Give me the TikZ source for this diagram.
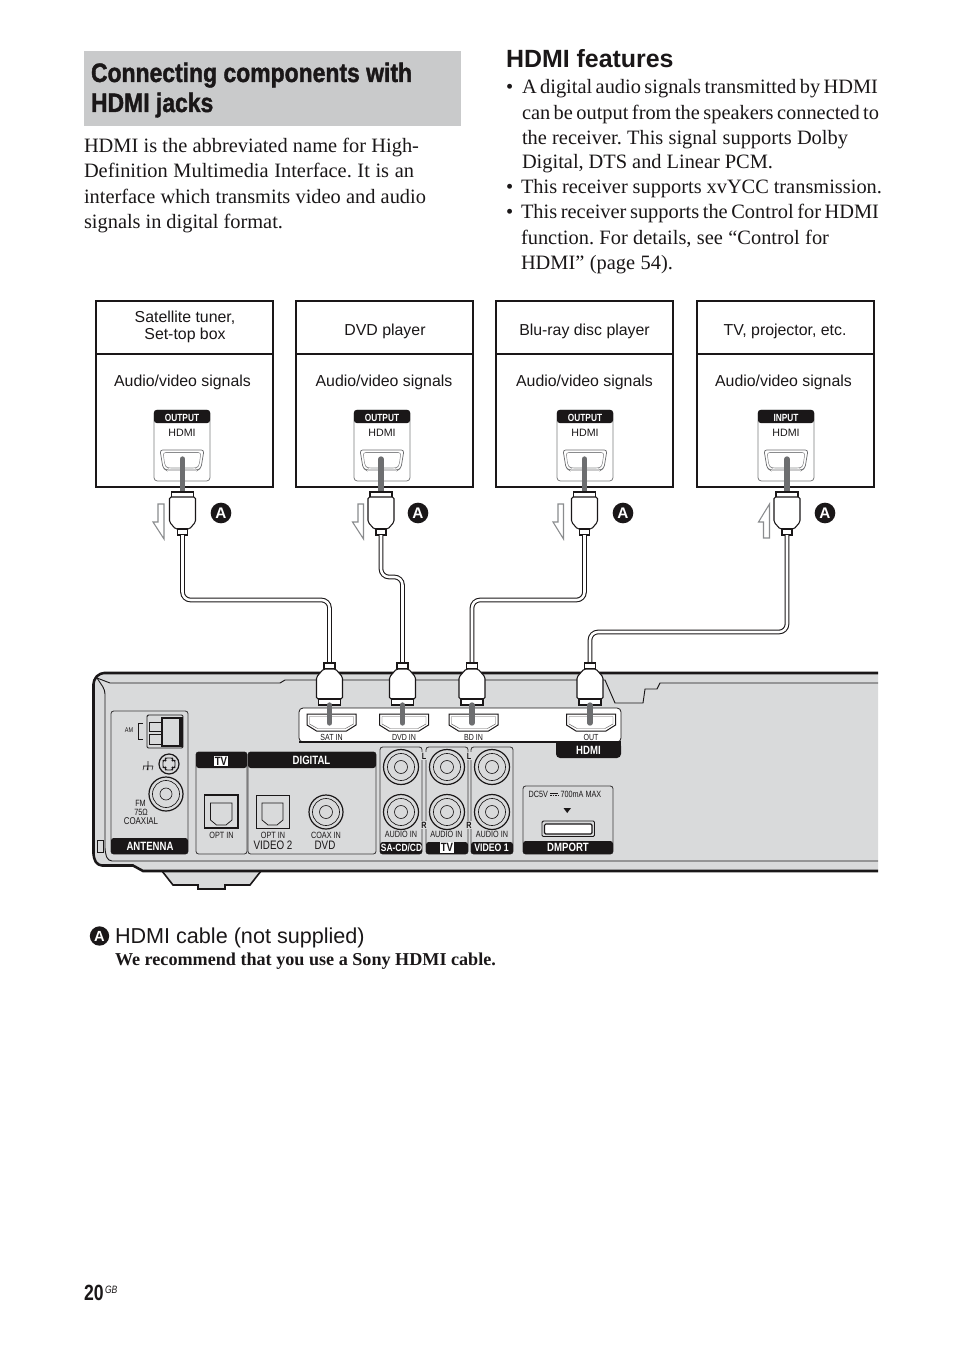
\documentclass[tikz,border=0pt]{standalone}
\usepackage{fontspec}
\setmainfont{Liberation Serif}
\frenchspacing
\newfontfamily\arial{Liberation Sans}
\newfontfamily\cond[FakeStretch=0.8]{Liberation Sans}
\newfontfamily\headf[FakeStretch=0.86,BoldFeatures={FakeBold=1.4}]{Liberation Sans}
\newcommand\fs[1]{\fontsize{#1}{#1}\selectfont}
\definecolor{bodyg}{HTML}{D9DADB}
\definecolor{headg}{HTML}{C9CACB}
\definecolor{stemg}{HTML}{6D6E70}
\definecolor{arrg}{HTML}{8A8C8E}
\definecolor{ink}{HTML}{1A1718}
\tikzset{
  lab/.style={inner sep=0pt,outer sep=0pt,text=ink},
  inv/.style={inner sep=0pt,outer sep=0pt,text=white},
  devbox/.style={draw=ink,line width=1.5pt,fill=white,outer sep=0pt},
  panel/.style={draw=ink!85,line width=.65pt,fill=bodyg,rounded corners=2pt},
  cable/.style={draw=ink,line width=.8pt,double=white,double distance=1.9pt,rounded corners=6pt},
  plugline/.style={draw=ink,line width=.8pt,fill=white},
  stem/.style={draw=stemg,line width=4pt},
  halfarrow/.style={draw=arrg,line width=.8pt,fill=white},
  thin/.style={draw=ink,line width=.4pt},
  badge/.style={circle,fill=ink,inner sep=0pt,text=white,font=\arial\bfseries\fs{11.5}}
}
% body text line: name x baseline width text
\newcommand\tline[5]{\node[lab,anchor=base west,font=\fs{15.3}] (#1) at (#2,#3) {\makebox[\dimexpr #4pt*3/4\relax][s]{#5}};}
\newcommand\sm[4]{\node[lab,font=\cond\fs{#4}] (#1) at (#2) {#3};}
% upper device
\newcommand\device[4]{% name left word jack-center
  \node[devbox,anchor=north west,minimum width=132.75pt,minimum height=139.5pt] (#1) at (#2,301) {};
  \draw[draw=ink,line width=1.1pt] (#2,354) -- ({#2+177},354);
  \fill[white] ({#4-28},410) rectangle ({#4+28},481);
  \draw[draw=stemg!90,line width=.6pt,rounded corners=2.5pt] ({#4-28},410) rectangle ({#4+28},481);
  \fill[ink,rounded corners=2pt] ({#4-28},423) -- ({#4-28},410) -- ({#4+28},410) -- ({#4+28},423) -- cycle;
  \node[inv,font=\cond\bfseries\fs{7.8}] (#1w) at (#4,417.5) {#3};
  \node[lab,font=\arial\fs{8}] (#1h) at (#4,433) {HDMI};
  \draw[draw=stemg,line width=.55pt,rounded corners=2pt] ({#4-22},450) -- ({#4+22},450) -- ({#4+19},468) -- ({#4+16},470) -- ({#4-16},470) -- ({#4-19},468) -- cycle;
  \draw[draw=stemg!80,line width=.4pt,rounded corners=2pt] ({#4-19},452.5) -- ({#4+19},452.5) -- ({#4+17},466) -- ({#4+14},468) -- ({#4-14},468) -- ({#4-17},466) -- cycle;
}
\newcommand\plugU[2]{% cx name
  \draw[stem,line cap=round] (#1,459) -- (#1,491);
  \draw[plugline] ({#1-11},497) -- ({#1-11},492) -- ({#1+11},492) -- ({#1+11},497);
  \draw[plugline,rounded corners=1.2pt] ({#1-13},497) -- ({#1+13},497) -- ({#1+13},522) -- ({#1+7},529) -- ({#1-7},529) -- ({#1-13},522) -- cycle;
  \draw[plugline] ({#1-5},529) rectangle ({#1+5},535);
  \coordinate (#2) at (#1,535);
}
\newcommand\plugL[2]{% cx name
  \coordinate (#2) at (#1,663);
}
\newcommand\plugLdraw[1]{%
  \draw[plugline] ({#1-5.5},663) rectangle ({#1+5.5},669);
  \draw[plugline,rounded corners=1.2pt] ({#1-6},669) -- ({#1+6},669) -- ({#1+13},677) -- ({#1+13},699) -- ({#1-13},699) -- ({#1-13},677) -- cycle;
  \draw[plugline] ({#1-11},699) rectangle ({#1+11},705);
  \draw[stem,line cap=round] (#1,705) -- (#1,723);
}
\newcommand\hjack[3]{% name cx label
  \draw[draw=ink,line width=.75pt,fill=white] ({#2-24.5},714) -- ({#2+24.5},714) -- ({#2+24.5},725) -- ({#2+15},731) -- ({#2-15},731) -- ({#2-24.5},725) -- cycle;
  \draw[draw=ink!70,line width=.35pt] ({#2-22},716.5) -- ({#2+22},716.5) -- ({#2+22},724) -- ({#2+14},728.5) -- ({#2-14},728.5) -- ({#2-22},724) -- cycle;
  \node[lab,font=\cond\fs{6.6}] (#1) at ({#2+0},737) {#3};
}
\newcommand\rca[2]{% x y
  \draw[draw=ink,line width=.9pt,fill=bodyg] (#1,#2) circle (17.5);
  \draw[draw=ink,line width=.5pt] (#1,#2) circle (13.5);
  \draw[draw=ink,line width=.5pt] (#1,#2) circle (6.5);
}
\newcommand\optjack[4]{% x1 y1 x2 lw
  \draw[draw=ink,line width=#4,fill=bodyg] (#1,#2) rectangle (#3,{#2+33});
  \draw[draw=ink,line width=.55pt] ({#1+6},{#2+8}) -- ({#3-6},{#2+8}) -- ({#3-6},{#2+25}) -- ({#3-12},{#2+30}) -- ({#1+12},{#2+30}) -- ({#1+6},{#2+25}) -- cycle;
}
\newcommand\tvbadge[2]{% name pos
  \node[inner sep=.9pt,fill=white,text=ink,font=\cond\bfseries\fs{9}] (#1) at (#2) {TV};
}
\begin{document}
\begin{tikzpicture}[x=0.75pt,y=-0.75pt]
\useasboundingbox (0,0) rectangle (954,1352);
\fill[white] (0,0) rectangle (954,1352);
% heading
\node[anchor=north west,fill=headg,inner sep=0pt,outer sep=0pt,minimum width=282.75pt,minimum height=56.25pt] (headbox) at (84,51) {};
\node[lab,anchor=base west,font=\headf\bfseries\fs{20}] (head1) at (91,82) {Connecting components with};
\node[lab,anchor=base west,font=\headf\bfseries\fs{20}] (head2) at (91,112) {HDMI jacks};
\tline{p1}{84}{153}{335}{HDMI is the abbreviated name for High-}
\tline{p2}{84}{178}{330}{Definition Multimedia Interface. It is an}
\tline{p3}{84}{203}{342}{interface which transmits video and audio}
\tline{p4}{84}{228}{199}{signals in digital format.}
\node[lab,anchor=base west,font=\arial\bfseries\fs{18.7}] (feat) at (506,67.5) {HDMI features};
\node[lab,anchor=base west,font=\fs{15.3}] (b1) at (506,94) {•};
\tline{q1}{522}{94}{356}{A digital audio signals transmitted by HDMI}
\tline{q2}{522}{120}{357}{can be output from the speakers connected to}
\tline{q3}{522}{145}{326}{the receiver. This signal supports Dolby}
\tline{q4}{522}{169}{251}{Digital, DTS and Linear PCM.}
\node[lab,anchor=base west,font=\fs{15.3}] (b2) at (506,194) {•};
\tline{q5}{521}{194}{361}{This receiver supports xvYCC transmission.}
\node[lab,anchor=base west,font=\fs{15.3}] (b3) at (506,219) {•};
\tline{q6}{521}{219}{358}{This receiver supports the Control for HDMI}
\tline{q7}{521}{244}{308}{function. For details, see “Control for}
\tline{q8}{521}{269}{152}{HDMI” (page 54).}
% devices
\device{d1}{96}{OUTPUT}{182}
\device{d2}{296}{OUTPUT}{382}
\device{d3}{496}{OUTPUT}{585}
\device{d4}{697}{INPUT}{786}
\node[lab,font=\arial\fs{11.9},align=center] (d1t) at (185,327) {Satellite tuner,\\[1.2pt]Set-top box};
\node[lab,font=\arial\fs{11.9}] (d2t) at (385,331) {DVD player};
\node[lab,font=\arial\fs{11.9}] (d3t) at (584.5,331) {Blu-ray disc player};
\node[lab,font=\arial\fs{11.9}] (d4t) at (785,331) {TV, projector, etc.};
\node[lab,font=\arial\fs{11.9}] (d1s) at (182.5,382) {Audio/video signals};
\node[lab,font=\arial\fs{11.9}] (d2s) at (384,382) {Audio/video signals};
\node[lab,font=\arial\fs{11.9}] (d3s) at (584.5,382) {Audio/video signals};
\node[lab,font=\arial\fs{11.9}] (d4s) at (783.5,382) {Audio/video signals};
% half arrows
\draw[halfarrow] (158,504) -- (164,504) -- (164,539) -- (153,522) -- (158,522) -- cycle;
\draw[halfarrow] (358,504) -- (363.5,504) -- (363.5,539) -- (352.5,522) -- (358,522) -- cycle;
\draw[halfarrow] (558,504) -- (563.5,504) -- (563.5,539) -- (553,522) -- (558,522) -- cycle;
\draw[halfarrow] (763.5,538) -- (769.5,538) -- (769.5,504) -- (758.5,522) -- (763.5,522) -- cycle;
\node[badge,minimum size=15.5pt] (a1) at (221,513) {A};
\node[badge,minimum size=15.5pt] (a2) at (418,513) {A};
\node[badge,minimum size=15.5pt] (a3) at (623,513) {A};
\node[badge,minimum size=15.5pt] (a4) at (825,513) {A};
% receiver body
\fill[bodyg] (878,673) -- (101,673) -- (93,680) -- (93,858) -- (99,866) -- (133,866) -- (143,871) -- (878,871) -- cycle;
\draw[draw=ink,line width=1.2pt,fill=bodyg] (162,871) -- (173,885) -- (198,885) -- (198,889) -- (225,889) -- (225,885) -- (250,885) -- (261,871);
\draw[draw=ink,line width=1.9pt,line join=round,rounded corners=3pt] (878,673) -- (100,673) -- (93.5,680) -- (93.5,858) -- (98,865.5) -- (106,865.5);
\draw[draw=ink,line width=1.9pt] (106,865.5) -- (133,865.5) -- (143,871) -- (878,871);
\draw[draw=ink,line width=.7pt,rounded corners=3pt] (97,678) -- (105,690) -- (105,852) -- (108,861) -- (878,861);
\draw[draw=ink,line width=.7pt] (97,678) -- (110,683) -- (280,683) -- (285,680) -- (605,680) -- (615,703) -- (643,703) -- (645,689) -- (657,689) -- (660,683) -- (878,683);
\draw[draw=ink,line width=.6pt,fill=bodyg] (97,840) rectangle (103,852);
% hdmi strip
\draw[draw=ink,line width=.6pt,fill=white,rounded corners=3pt] (299,742) -- (299,708) -- (621,708) -- (621,742) -- cycle;
\fill[ink,rounded corners=3pt] (556,742) -- (621,742) -- (621,758) -- (556,758) -- cycle;
\fill[ink] (556,741) rectangle (621,746);
\draw[draw=ink,line width=.9pt] (299,742) -- (621,742);
\node[inv,font=\cond\bfseries\fs{9}] (hdmilab) at (588.5,750) {HDMI};
\hjack{js}{331.5}{SAT IN}
\hjack{jd}{404}{DVD IN}
\hjack{jb}{473.5}{BD IN}
\hjack{jo}{591}{OUT}
% antenna
\draw[panel] (111,711) rectangle (188,854);
\fill[ink,rounded corners=2pt] (111,838) rectangle (188,854);
\node[inv,font=\cond\bfseries\fs{9}] (ant) at (150,846) {ANTENNA};
\draw[draw=ink,line width=.7pt,fill=bodyg,rounded corners=1pt] (147,715) rectangle (183,748);
\draw[draw=ink,line width=.8pt] (162,718) rectangle (182,746);
\draw[draw=ink,line width=1.2pt] (180,718) -- (180,746);
\draw[draw=ink,line width=.7pt] (149,722) rectangle (162,731);
\draw[draw=ink,line width=.7pt] (149,734) rectangle (162,744);
\draw[draw=ink,line width=.7pt] (143,723) -- (138,723) -- (138,739) -- (143,739);
\sm{amt}{129,730}{AM}{5.2}
\draw[thin] (148,761) -- (148,770) (143,766) -- (153,766) (144,766) -- (143,770) (148,766) -- (147,770) (153,766) -- (152,770);
\draw[draw=ink,line width=.9pt] (169,764) circle (10);
\draw[draw=ink,line width=.7pt,rounded corners=1.5pt] (165,758) -- (173,758) -- (172,761) -- (175,760) -- (175,768) -- (172,767) -- (173,770) -- (165,770) -- (166,767) -- (163,768) -- (163,760) -- (166,761) -- cycle;
\draw[draw=ink,line width=.9pt] (166,794) circle (17);
\draw[draw=ink,line width=.5pt] (166,794) circle (13.5);
\draw[draw=ink,line width=.5pt] (166,794) circle (6);
\sm{fm1}{140.5,803.5}{FM}{6.8}
\sm{fm2}{141,812}{75Ω}{6.8}
\sm{fm3}{141,821}{COAXIAL}{7.4}
% TV / digital
\draw[panel] (196,752) rectangle (247,854);
\fill[ink,rounded corners=2pt] (196,768) -- (196,752) -- (247,752) -- (247,768) -- cycle;
\tvbadge{tv1}{221,761}
\optjack{204.5}{795}{238}{1.3pt}
\sm{o1}{221.5,835}{OPT IN}{6.8}
\draw[panel] (248,752) rectangle (376,854);
\fill[ink,rounded corners=2pt] (248,768) -- (248,752) -- (376,752) -- (376,768) -- cycle;
\node[inv,font=\cond\bfseries\fs{9}] (dig) at (311.5,760.5) {DIGITAL};
\optjack{256}{795}{289}{.7pt}
\draw[draw=ink,line width=.9pt] (326,812) circle (17);
\draw[draw=ink,line width=.5pt] (326,812) circle (13.5);
\draw[draw=ink,line width=.5pt] (326,812) circle (6.5);
\sm{o2}{273,835}{OPT IN}{6.8}
\sm{o3}{326,835}{COAX IN}{6.8}
\sm{v2}{273,845}{VIDEO 2}{9.2}
\sm{dv}{325,845}{DVD}{9.2}
% audio in
\foreach \xa/\xb in {380/422,426/468,471/513}{
  \draw[panel] (\xa,747) rectangle (\xb,854);
  \fill[ink,rounded corners=2pt] (\xa,842) -- (\xb,842) -- (\xb,854) -- (\xa,854) -- cycle;
}
\foreach \cx in {401,447,492}{ \rca{\cx}{767} \rca{\cx}{812} }
\node[inv,font=\cond\bfseries\fs{7.9}] (sa) at (401.5,847.5) {SA-CD/CD};
\tvbadge{tv2}{447,847.5}
\node[inv,font=\cond\bfseries\fs{8.2}] (vi) at (491.5,847.5) {VIDEO 1};
\sm{ai1}{401,834.5}{AUDIO IN}{6.8}
\sm{ai2}{446.5,834.5}{AUDIO IN}{6.8}
\sm{ai3}{492,834.5}{AUDIO IN}{6.8}
\node[lab,fill=bodyg,inner sep=.3pt,font=\cond\bfseries\fs{6.8}] (l1) at (424,756) {L};
\node[lab,fill=bodyg,inner sep=.3pt,font=\cond\bfseries\fs{6.8}] (l2) at (469,756) {L};
\node[lab,fill=bodyg,inner sep=.3pt,font=\cond\bfseries\fs{6.8}] (r1) at (424,825) {R};
\node[lab,fill=bodyg,inner sep=.3pt,font=\cond\bfseries\fs{6.8}] (r2) at (469,825) {R};
% dmport
\draw[panel] (523,786) rectangle (613,854);
\fill[ink,rounded corners=2pt] (523,841) -- (613,841) -- (613,854) -- (523,854) -- cycle;
\node[inv,font=\cond\bfseries\fs{9}] (dm) at (568,847) {DMPORT};
\node[lab,font=\cond\fs{6.8}] (dc) at (565,794) {DC5V \raisebox{.6pt}{\tikz[baseline=0pt]{\draw[line width=.4pt] (0,2.2pt) -- (6pt,2.2pt);\draw[line width=.4pt,dash pattern=on 1.2pt off .6pt] (0,.8pt) -- (6pt,.8pt);}} 700mA MAX};
\fill[ink] (563.5,808) -- (571,808) -- (567.2,813) -- cycle;
\draw[draw=ink,line width=.7pt,fill=bodyg,rounded corners=1pt] (542,821) rectangle (594.5,836.5);
\draw[draw=ink,line width=.9pt,fill=white,rounded corners=1pt] (544.5,824) rectangle (592,834);
% cables
\plugU{182.5}{u1}
\plugU{381}{u2}
\plugU{584.5}{u3}
\plugU{787}{u4}
\plugL{329.5}{w1}
\plugL{402.5}{w2}
\plugL{472}{w3}
\plugL{590}{w4}
\draw[cable] (u1) -- ++(0,65) -| (w1);
\draw[cable] (u2) -- ++(0,42) -| (w2);
\draw[cable] (u3) -- ++(0,65) -| (w3);
\draw[cable] (u4) -- ++(0,97) -| (w4);
\plugLdraw{329.5}
\plugLdraw{402.5}
\plugLdraw{472}
\plugLdraw{590}
% legend
\node[badge,minimum size=14.5pt,font=\arial\bfseries\fs{11}] (alg) at (99.5,936) {A};
\node[lab,anchor=base west,font=\arial\fs{16.2}] (cab) at (115,943) {HDMI cable (not supplied)};
\node[lab,anchor=base west,font=\bfseries\fs{13.6}] (rec) at (115,965) {We recommend that you use a Sony HDMI cable.};
% page number
\node[lab,anchor=base west,font=\cond\bfseries\fs{16.5}] (pg) at (84,1300) {20};
\node[lab,anchor=base west,font=\cond\itshape\fs{8}] (gb) at (105,1293) {GB};
\end{tikzpicture}
\end{document}
